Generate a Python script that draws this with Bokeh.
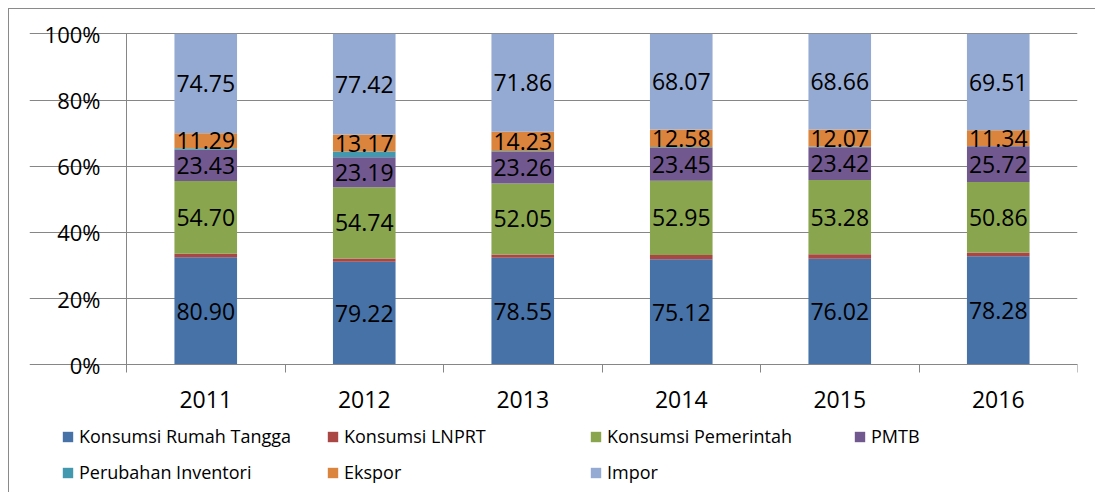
from bokeh.plotting import figure
from bokeh.models import (ColumnDataSource, Legend, LegendItem, FixedTicker,
                          PrintfTickFormatter, Range1d)
from bokeh.embed import file_html
from bokeh.resources import INLINE
from bokeh.core.properties import value

years = ["2011", "2012", "2013", "2014", "2015", "2016"]
series_names = ["Konsumsi Rumah Tangga", "Konsumsi LNPRT", "Konsumsi Pemerintah",
                "PMTB", "Perubahan Inventori", "Ekspor", "Impor"]
rumah_tangga = [80.90, 79.22, 78.55, 75.12, 76.02, 78.28]
lnprt = [2.6, 2.5, 2.5, 3.0, 3.2, 2.7]
pemerintah = [54.70, 54.74, 52.05, 52.95, 53.28, 50.86]
pmtb = [23.43, 23.19, 23.26, 23.45, 23.42, 25.72]
inventori = [1.2, 4.3, 0.5, 0.5, 0.6, 0.2]
ekspor = [11.29, 13.17, 14.23, 12.58, 12.07, 11.34]
impor = [74.75, 77.42, 71.86, 68.07, 68.66, 69.51]
labeled = [True, False, True, True, False, True, True]

colors = ["#4672A8", "#AA4643", "#89A54E", "#71588F", "#4198AF", "#DB843D", "#94AAD3"]
series = [rumah_tangga, lnprt, pemerintah, pmtb, inventori, ekspor, impor]

xs = [i + 0.5 for i in range(len(years))]
totals = [sum(s[i] for s in series) for i in range(len(years))]
keys = ["s%d" % k for k in range(len(series))]
data = {"x": xs}
for k, s in zip(keys, series):
    data[k] = [v / t * 100 for v, t in zip(s, totals)]
src = ColumnDataSource(data)

# layout (page pixels): frame spans 29..1077 x, 14..488 y
# category axis starts at x=126, 0% at y=364.3, 100% at y=33.3
frame_top, frame_bottom = 14, 488
px_per_cat = (1077 - 126) / len(years)
x_start = -(126 - 29) / px_per_cat
px_per_pct = (364.3 - 33.3) / 100
y_start = -(frame_bottom - 364.3) / px_per_pct
y_end = 100 + (33.3 - frame_top) / px_per_pct

p = figure(width=1087, height=484,
           x_range=Range1d(x_start, len(years)), y_range=Range1d(y_start, y_end),
           output_backend="svg", toolbar_location=None,
           min_border_left=20, min_border_right=19, min_border_top=frame_top - 9,
           min_border_bottom=5, margin=(8, 0, 0, 8))
p.outline_line_color = None
p.background_fill_color = "white"
p.border_fill_color = "white"
p.styles = {"border-left": "1px solid #8a8a8a", "border-top": "1px solid #8a8a8a"}

renderers = p.vbar_stack(keys, x="x", width=0.395, color=colors, line_color=None,
                         source=src)

# data labels
lx, ly, lt = [], [], []
for i in range(len(years)):
    base = 0.0
    for k, s, lab in zip(keys, series, labeled):
        h = data[k][i]
        if lab:
            lx.append(xs[i])
            ly.append(base + h / 2)
            lt.append("%.2f" % s[i])
        base += h
p.text(x=lx, y=ly, text=lt, text_align="center", text_baseline="middle",
       text_font=value("Open Sans"), text_font_size="23px", text_color="black")

gray = "#868686"
yticks = [0, 20, 40, 60, 80, 100]
p.xgrid.visible = False
p.ygrid.grid_line_color = gray
p.ygrid.grid_line_width = 1
p.ygrid.ticker = FixedTicker(ticks=yticks)
p.ygrid.bounds = (0, len(years))

ya = p.yaxis[0]
ya.fixed_location = 0
ya.bounds = (0, 100)
ya.ticker = FixedTicker(ticks=yticks)
ya.formatter = PrintfTickFormatter(format="%d%%")
ya.axis_line_color = gray
ya.major_tick_line_color = gray
ya.major_tick_out = 8
ya.major_tick_in = 0
ya.minor_tick_line_color = None
ya.major_label_standoff = 18
ya.major_label_text_font = "Open Sans"
ya.major_label_text_font_size = "22px"
ya.major_label_text_color = "black"

xa = p.xaxis[0]
xa.fixed_location = 0
xa.bounds = (0, len(years))
xa.ticker = FixedTicker(ticks=xs, minor_ticks=list(range(len(years) + 1)))
xa.major_label_overrides = {x: y for x, y in zip(xs, years)}
xa.axis_line_color = gray
xa.major_tick_line_color = None
xa.major_tick_out = 0
xa.major_tick_in = 0
xa.minor_tick_line_color = gray
xa.minor_tick_out = 8
xa.minor_tick_in = 0
xa.major_label_standoff = 18
xa.major_label_text_font = "Open Sans"
xa.major_label_text_font_size = "23px"
xa.major_label_text_color = "black"

# legend: 4 columns x 2 rows (row-major order)
columns = [[0, 4], [1, 5], [2, 6], [3]]
col_x = [32, 297, 560, 824]
for cols, cx in zip(columns, col_x):
    items = [LegendItem(label=series_names[j], renderers=[renderers[j]]) for j in cols]
    vy = 4 if len(cols) == 2 else 40
    lg = Legend(items=items, location=(cx, vy), orientation="vertical",
                padding=0, margin=0, spacing=12, glyph_width=13, glyph_height=13,
                label_standoff=5, label_height=13,
                label_text_font="Open Sans", label_text_font_size="18px",
                label_text_color="black", border_line_color=None,
                background_fill_alpha=0)
    p.add_layout(lg, "center")

open("out.html", "w").write(file_html(p, INLINE))
